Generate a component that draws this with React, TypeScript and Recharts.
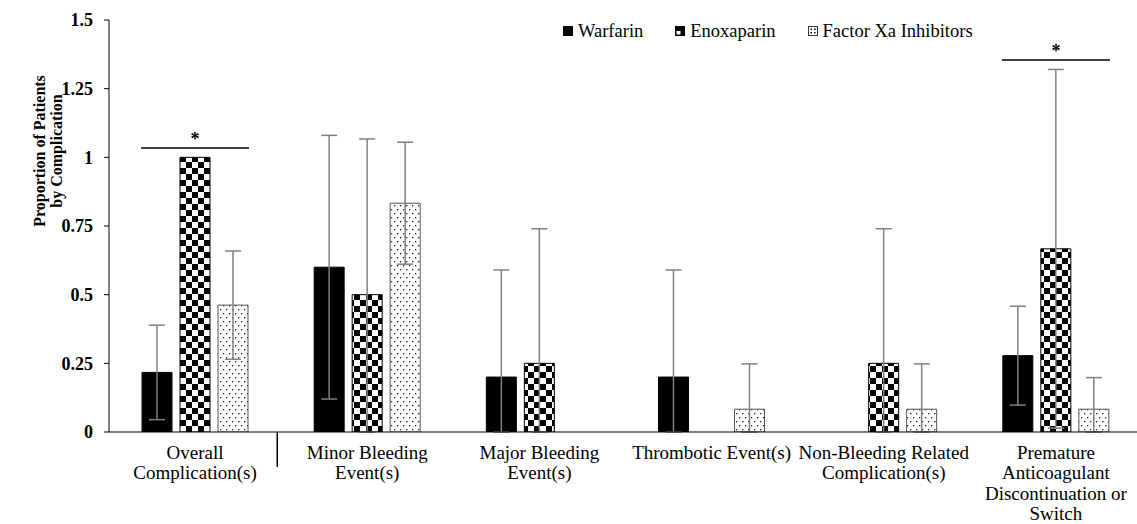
import React from "react";
import {
  BarChart, Bar, XAxis, YAxis, ErrorBar, ReferenceLine
} from "recharts";

const categories = [
  "Overall\nComplication(s)",
  "Minor Bleeding\nEvent(s)",
  "Major Bleeding\nEvent(s)",
  "Thrombotic Event(s)",
  "Non-Bleeding Related\nComplication(s)",
  "Premature\nAnticoagulant\nDiscontinuation or\nSwitch",
];

const seriesNames = ["Warfarin", "Enoxaparin", "Factor Xa Inhibitors"];

const warfarin = [0.217, 0.6, 0.2, 0.2, 0, 0.278];
const enoxaparin = [1.0, 0.5, 0.25, 0, 0.25, 0.667];
const factorXa = [0.462, 0.833, 0, 0.083, 0.083, 0.083];

// error extents [below, above] as visible in the figure (cut at 0); null = none
const warfarinErr = [[0.172, 0.172], [0.48, 0.48], [0.2, 0.39], [0.2, 0.39], null, [0.18, 0.18]];
const enoxaparinErr = [null, [0.5, 0.567], [0.25, 0.49], null, [0.25, 0.49], [0.653, 0.653]];
const factorXaErr = [[0.197, 0.197], [0.222, 0.222], null, [0.083, 0.165], [0.083, 0.165], [0.083, 0.115]];

const yTicks = [0, 0.25, 0.5, 0.75, 1, 1.25, 1.5];

// significance brackets: category and height
const brackets = [
  { cat: categories[0], y: 1.034 },
  { cat: categories[5], y: 1.354 },
];

const data = categories.map((name, i) => ({
  name,
  warfarin: warfarin[i],
  warfarinErr: warfarinErr[i],
  enoxaparin: enoxaparin[i],
  enoxaparinErr: enoxaparinErr[i],
  factorXa: factorXa[i],
  factorXaErr: factorXaErr[i],
}));

const FONT = "'Liberation Serif', 'Times New Roman', serif";
const BAR = 30;
const GAP = 8;

const CategoryTick = ({ x, y, payload }: any) => {
  const lines = String(payload.value).split("\n");
  return (
    <text x={x} textAnchor="middle" fontFamily={FONT} fontSize={19} fill="#000">
      {lines.map((l, i) => (
        <tspan key={i} x={x} y={y + 27 + i * 20.3}>{l}</tspan>
      ))}
    </text>
  );
};

const YTitle = () => (
  <text transform="rotate(-90)" textAnchor="middle" fontFamily={FONT} fontSize={16} fontWeight="bold" fill="#000">
    <tspan x={-151} y={44.5}>Proportion of Patients</tspan>
    <tspan x={-151} y={61.5}>by Complication</tspan>
  </text>
);

// bracket spanning the three bars of a group, with an asterisk on top
const Bracket = (props: any) => {
  const { x1, y1 } = props;
  const half = 1.5 * BAR + GAP + 1;
  return (
    <g>
      <line x1={x1 - half} x2={x1 + half} y1={y1} y2={y1} stroke="#000" strokeWidth={1.5} />
      <text x={x1} y={y1 - 3} textAnchor="middle" fontFamily={FONT} fontSize={18} fontWeight="bold" fill="#000">*</text>
    </g>
  );
};

// short vertical divider below the axis, left of the given category
const Divider = (props: any) => {
  const { x1, y1, y2 } = props;
  const x = x1 - 90;
  return <line x1={x} x2={x} y1={y1} y2={y2} stroke="#000" strokeWidth={1.5} />;
};

const LegendIcon = ({ kind }: { kind: number }) => (
  <svg width={10} height={10} style={{ display: "block" }}>
    {kind === 0 && <rect x={0} y={0} width={10} height={10} fill="#000" />}
    {kind === 1 && (
      <g>
        <rect x={0.5} y={0.5} width={9} height={9} fill="#000" stroke="#000" />
        <rect x={1.5} y={5} width={4} height={3.5} fill="#fff" />
      </g>
    )}
    {kind === 2 && (
      <g>
        <rect x={0.5} y={0.5} width={9} height={9} fill="#fff" stroke="#333" />
        <rect x={2.5} y={2.5} width={1.5} height={1.5} fill="#000" />
        <rect x={6} y={2.5} width={1.5} height={1.5} fill="#000" />
        <rect x={2.5} y={6} width={1.5} height={1.5} fill="#000" />
        <rect x={6} y={6} width={1.5} height={1.5} fill="#000" />
      </g>
    )}
  </svg>
);

export default function App() {
  return (
    <div style={{ position: "absolute", left: 0, top: 0, width: 1137, height: 524, overflow: "hidden", background: "#fff" }}>
      <BarChart
        width={1142}
        height={524}
        data={data}
        margin={{ top: 20, right: 0, left: 0, bottom: 0 }}
        barSize={BAR}
        barGap={GAP}
      >
        <defs>
          <pattern id="checker" width={12} height={12} patternUnits="userSpaceOnUse">
            <rect width={12} height={12} fill="#fff" />
            <rect x={0} y={0} width={6} height={6} fill="#000" />
            <rect x={6} y={6} width={6} height={6} fill="#000" />
          </pattern>
          <pattern id="dots" width={6} height={8} patternUnits="userSpaceOnUse">
            <rect width={6} height={8} fill="#fff" />
            <rect x={1} y={1} width={1.3} height={1.3} fill="#222" />
            <rect x={4} y={5} width={1.3} height={1.3} fill="#222" />
          </pattern>
        </defs>
        <XAxis
          dataKey="name"
          height={92}
          interval={0}
          tickLine={false}
          tickSize={0}
          tickMargin={0}
          axisLine={{ stroke: "#000", strokeWidth: 1 }}
          tick={<CategoryTick />}
        />
        <YAxis
          width={109}
          domain={[0, 1.5]}
          ticks={yTicks}
          allowDataOverflow
          tickSize={5}
          tickMargin={11}
          axisLine={{ stroke: "#000", strokeWidth: 1 }}
          tickLine={{ stroke: "#000" }}
          tick={{ fontFamily: FONT, fontSize: 18, fontWeight: "bold", fill: "#000" }}
          label={<YTitle />}
        />
        <Bar dataKey="warfarin" name={seriesNames[0]} fill="#000" stroke="#000" isAnimationActive={false}>
          <ErrorBar dataKey="warfarinErr" width={8} stroke="#808080" strokeWidth={1.5} />
        </Bar>
        <Bar dataKey="enoxaparin" name={seriesNames[1]} fill="url(#checker)" stroke="#000" isAnimationActive={false}>
          <ErrorBar dataKey="enoxaparinErr" width={8} stroke="#808080" strokeWidth={1.5} />
        </Bar>
        <Bar dataKey="factorXa" name={seriesNames[2]} fill="url(#dots)" stroke="#555" isAnimationActive={false}>
          <ErrorBar dataKey="factorXaErr" width={8} stroke="#808080" strokeWidth={1.5} />
        </Bar>
        {brackets.map((b, i) => (
          <ReferenceLine
            key={i}
            segment={[{ x: b.cat, y: b.y }, { x: b.cat, y: b.y }]}
            ifOverflow="visible"
            shape={<Bracket />}
          />
        ))}
        <ReferenceLine
          segment={[{ x: categories[1], y: 0 }, { x: categories[1], y: -0.127 }]}
          ifOverflow="visible"
          shape={<Divider />}
        />
      </BarChart>
      <div
        style={{
          position: "absolute", left: 563, top: 20, height: 22, display: "flex", alignItems: "center",
          gap: 32, fontFamily: FONT, fontSize: 18.5, color: "#000", whiteSpace: "nowrap",
        }}
      >
        {seriesNames.map((n, i) => (
          <div key={n} style={{ display: "flex", alignItems: "center", gap: 5 }}>
            <LegendIcon kind={i} />
            <span>{n}</span>
          </div>
        ))}
      </div>
    </div>
  );
}
